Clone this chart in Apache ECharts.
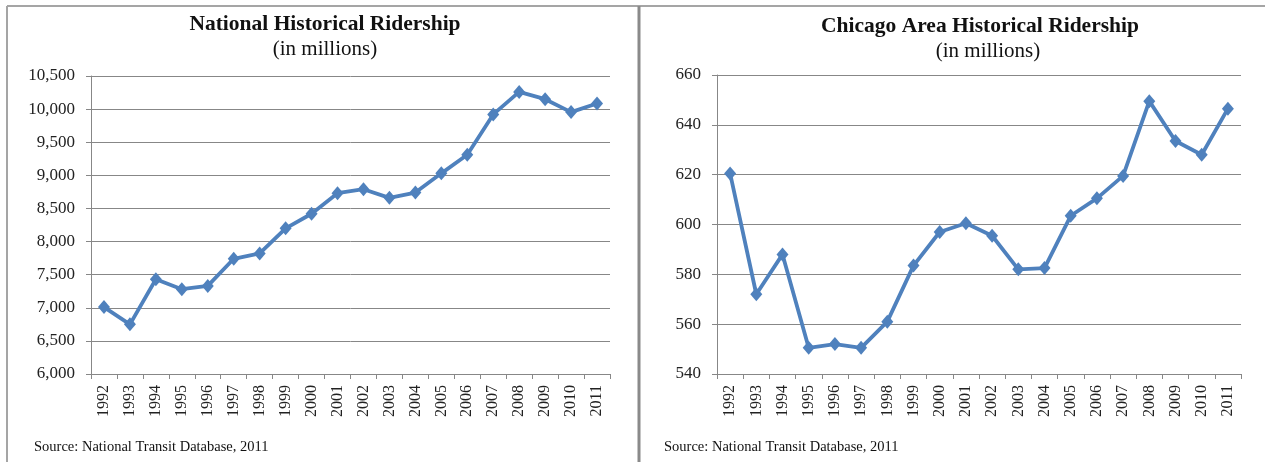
<!DOCTYPE html>
<html>
<head>
<meta charset="utf-8">
<script src="https://cdn.jsdelivr.net/npm/echarts@6/dist/echarts.min.js"></script>
<style>
  html, body { margin: 0; padding: 0; background: #fff; }
  #chart { width: 1265px; height: 462px; }
</style>
</head>
<body>
<div id="chart"></div>
<script>
// years on the x axis (both panels)
var years = ['1992', '1993', '1994', '1995', '1996', '1997', '1998', '1999', '2000', '2001',
  '2002', '2003', '2004', '2005', '2006', '2007', '2008', '2009', '2010', '2011'];

// ridership, millions
var nationalRiders = [7010, 6750, 7430, 7280, 7330, 7740, 7820, 8200, 8420, 8730,
  8790, 8660, 8740, 9030, 9310, 9920, 10260, 10150, 9955, 10085];
var chicagoRiders = [620.5, 572, 588, 550.5, 552, 550.5, 561, 583.5, 597, 600.5,
  595.5, 582, 582.5, 603.5, 610.5, 619.5, 649.5, 633.5, 628, 646.5];

var sourceNote = 'Source: National Transit Database, 2011';

var serif = '"Liberation Serif", "DejaVu Serif", serif';
var gridGray = '#878787';
var lineBlue = '#4F81BD';

var chart = echarts.init(document.getElementById('chart'));

function xAxisFor(idx) {
  return {
    type: 'category',
    gridIndex: idx,
    data: years,
    boundaryGap: true,
    axisLine: { lineStyle: { color: gridGray, width: 1 } },
    axisTick: { show: true, length: 5, lineStyle: { color: gridGray } },
    axisLabel: {
      rotate: 90,
      interval: 0,
      margin: 11,
      color: '#222',
      fontFamily: serif,
      fontSize: 16
    }
  };
}

function yAxisFor(idx, min, max, step, fmt) {
  return {
    type: 'value',
    gridIndex: idx,
    min: min,
    max: max,
    interval: step,
    axisLine: { show: true, lineStyle: { color: gridGray, width: 1 } },
    axisTick: { show: true, length: 5, lineStyle: { color: gridGray } },
    splitLine: { lineStyle: { color: gridGray, width: 1 } },
    axisLabel: {
      margin: 16,
      color: '#222',
      fontFamily: serif,
      fontSize: 17,
      formatter: fmt
    }
  };
}

function lineSeries(idx, vals) {
  return {
    type: 'line',
    xAxisIndex: idx,
    yAxisIndex: idx,
    data: vals,
    symbol: 'diamond',
    symbolSize: [12, 14],
    showAllSymbol: true,
    lineStyle: { color: lineBlue, width: 3.8 },
    itemStyle: { color: lineBlue },
    animation: false
  };
}

chart.setOption({
  animation: false,
  title: [
    { text: 'National Historical Ridership', left: 320, top: 8, textAlign: 'center',
      textStyle: { fontFamily: serif, fontSize: 21.5, fontWeight: 'bold', color: '#111' } },
    { text: '(in millions)', left: 320, top: 34, textAlign: 'center',
      textStyle: { fontFamily: serif, fontSize: 21, fontWeight: 'normal', color: '#111' } },
    { text: 'Chicago Area Historical Ridership', left: 975, top: 10, textAlign: 'center',
      textStyle: { fontFamily: serif, fontSize: 21.5, fontWeight: 'bold', color: '#111' } },
    { text: '(in millions)', left: 983, top: 36, textAlign: 'center',
      textStyle: { fontFamily: serif, fontSize: 21, fontWeight: 'normal', color: '#111' } }
  ],
  grid: [
    { left: 91, top: 76, width: 519, height: 298 },
    { left: 717, top: 75, width: 524, height: 299 }
  ],
  xAxis: [xAxisFor(0), xAxisFor(1)],
  yAxis: [
    yAxisFor(0, 6000, 10500, 500, function (v) { return v.toLocaleString('en-US'); }),
    yAxisFor(1, 540, 660, 20, function (v) { return String(v); })
  ],
  series: [lineSeries(0, nationalRiders), lineSeries(1, chicagoRiders)],
  graphic: [
    // panel frames
    { type: 'line', shape: { x1: 7, y1: 6, x2: 1265, y2: 6 }, style: { stroke: '#a5a5a5', lineWidth: 2 } },
    { type: 'line', shape: { x1: 7, y1: 6, x2: 7, y2: 462 }, style: { stroke: '#a5a5a5', lineWidth: 2 } },
    { type: 'line', shape: { x1: 639, y1: 6, x2: 639, y2: 462 }, style: { stroke: '#8a8a8a', lineWidth: 3 } },
    // source notes
    { type: 'text', left: 34, top: 440,
      style: { text: sourceNote, font: '14.5px ' + serif, fill: '#111' } },
    { type: 'text', left: 664, top: 440,
      style: { text: sourceNote, font: '14.5px ' + serif, fill: '#111' } }
  ]
});
</script>
</body>
</html>
